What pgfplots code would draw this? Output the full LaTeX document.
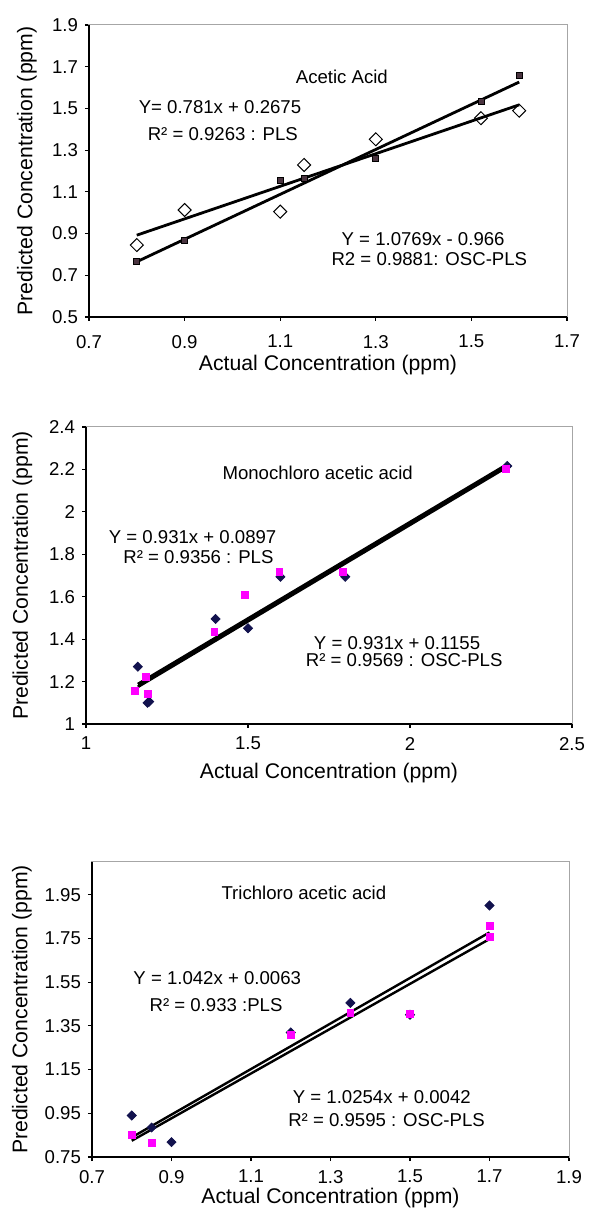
\documentclass[border=0pt]{standalone}
\usepackage{fontspec}
\setmainfont{Liberation Sans}
\usepackage{pgfplots}
\pgfplotsset{compat=1.18}
\definecolor{navy}{HTML}{12124E}
\definecolor{mag}{HTML}{FF00FF}
\definecolor{sqc}{HTML}{4A3440}
\tikzset{
anno/.style={font=\fontsize{9.3}{11}\selectfont, inner sep=0pt},
trend/.style={black, line width=1.4pt},
}
\pgfplotsset{panel/.style={
  scale only axis, anchor=south west,
  axis line style={draw=gray!70, line width=0.5pt},
  tick align=outside, xtick pos=bottom, ytick pos=left,
  major tick length=2pt,
  tick style={black, line width=0.6pt},
  tick label style={font=\fontsize{9.3}{11}\selectfont},
  xticklabel style={yshift=-1pt},
  label style={font=\fontsize{10.6}{12}\selectfont},
  /pgf/number format/assume math mode=true,
  clip=false,
  after end axis/.code={\draw[black,line width=0.7pt] (rel axis cs:0,1) -- (rel axis cs:0,0) -- (rel axis cs:1,0);},
  xlabel={Actual Concentration (ppm)},
  ylabel={Predicted Concentration (ppm)},
}}
\begin{document}
\begin{tikzpicture}
\useasboundingbox (0,0) rectangle (294.5pt,610.5pt);
% ---------------- Panel 1: Acetic acid
\begin{axis}[panel, at={(44.5pt,452pt)}, width=239pt, height=146pt,
  xmin=0.7, xmax=1.7, ymin=0.5, ymax=1.9,
  xtick={0.7,0.9,1.1,1.3,1.5,1.7}, ytick={0.5,0.7,0.9,1.1,1.3,1.5,1.7,1.9},
  xticklabel style={yshift=-2.5pt},
  x label style={at={(axis description cs:0.5,-0.165)},anchor=center},
  y label style={at={(axis description cs:-0.13,0.5)},anchor=center},
]
\addplot[only marks, mark=square*, mark size=1.5pt, draw=black, fill=sqc] coordinates {
 (0.8,0.765) (0.9,0.866) (1.1,1.157) (1.15,1.165) (1.3,1.261) (1.52,1.532) (1.6,1.656)};
\addplot[only marks, mark=square, mark size=2.3pt, draw=black, fill=white, line width=0.5pt,
  every mark/.append style={rotate=45}] coordinates {
 (0.8,0.845) (0.9,1.013) (1.1,1.005) (1.15,1.229) (1.3,1.352) (1.52,1.453) (1.6,1.489)};
\addplot[trend, no marks] coordinates {(0.8,0.8923) (1.6,1.5171)};
\addplot[trend, no marks] coordinates {(0.8,0.7649) (1.6,1.6264)};
\node[anno] at (axis cs:1.229,1.652) {Acetic Acid};
\node[anno] at (axis cs:0.974,1.508) {Y= 0.781x + 0.2675};
\node[anno] at (axis cs:0.980,1.377) {R² = 0.9263 : PLS};
\node[anno] at (axis cs:1.399,0.874) {Y = 1.0769x - 0.966};
\node[anno] at (axis cs:1.412,0.777) {R2 = 0.9881: OSC-PLS};
\end{axis}
% ---------------- Panel 2: Monochloro acetic acid
\begin{axis}[panel, at={(43pt,248.5pt)}, width=243pt, height=148.5pt,
  xmin=1, xmax=2.5, ymin=1, ymax=2.4,
  xtick={1,1.5,2,2.5}, ytick={1,1.2,1.4,1.6,1.8,2,2.2,2.4},
  x label style={at={(axis description cs:0.5,-0.165)},anchor=center},
  y label style={at={(axis description cs:-0.131,0.5)},anchor=center},
]
\addplot[only marks, mark=square*, mark size=1.6pt, draw=navy, fill=navy,
  every mark/.append style={rotate=45}] coordinates {
 (1.16,1.270) (1.195,1.105) (1.19,1.100) (1.4,1.495) (1.5,1.451) (1.6,1.694) (1.8,1.694) (2.3,2.216)};
\addplot[only marks, mark=square*, mark size=1.7pt, draw=mag, fill=mag] coordinates {
 (1.15,1.157) (1.185,1.223) (1.192,1.141) (1.396,1.435) (1.491,1.608) (1.597,1.718) (1.792,1.718) (2.296,2.201)};
\addplot[trend, no marks] coordinates {(1.16,1.175) (2.3,2.212)};
\addplot[trend, no marks] coordinates {(1.16,1.188) (2.3,2.224)};
\node[anno] at (axis cs:1.715,2.182) {Monochloro acetic acid};
\node[anno] at (axis cs:1.329,1.883) {Y = 0.931x + 0.0897};
\node[anno] at (axis cs:1.347,1.789) {R² = 0.9356 : PLS};
\node[anno] at (axis cs:1.960,1.383) {Y = 0.931x + 0.1155};
\node[anno] at (axis cs:1.982,1.302) {R² = 0.9569 : OSC-PLS};
\end{axis}
% ---------------- Panel 3: Trichloro acetic acid
\begin{axis}[panel, at={(46pt,32pt)}, width=238.5pt, height=147.5pt,
  xmin=0.7, xmax=1.9, ymin=0.75, ymax=2.1,
  xtick={0.7,0.9,1.1,1.3,1.5,1.7,1.9}, ytick={0.75,0.95,1.15,1.35,1.55,1.75,1.95},
  x label style={at={(axis description cs:0.5,-0.138)},anchor=center},
  y label style={at={(axis description cs:-0.147,0.5)},anchor=center},
]
\addplot[only marks, mark=square*, mark size=1.6pt, draw=navy, fill=navy,
  every mark/.append style={rotate=45}] coordinates {
 (0.8,0.940) (0.85,0.885) (0.9,0.818) (1.2,1.320) (1.35,1.455) (1.5,1.401) (1.7,1.901)};
\addplot[only marks, mark=square*, mark size=1.7pt, draw=mag, fill=mag] coordinates {
 (0.8,0.851) (0.85,0.813) (1.2,1.309) (1.35,1.410) (1.5,1.404) (1.7,1.807) (1.7,1.758)};
\addplot[trend, line width=1.2pt, no marks] coordinates {(0.8,0.8399) (1.7,1.7777)};
\addplot[trend, line width=1.2pt, no marks] coordinates {(0.8,0.8245) (1.7,1.7474)};
\node[anno] at (axis cs:1.233,1.957) {Trichloro acetic acid};
\node[anno] at (axis cs:1.015,1.569) {Y = 1.042x + 0.0063};
\node[anno] at (axis cs:1.012,1.446) {R² = 0.933 :PLS};
\node[anno] at (axis cs:1.429,1.025) {Y = 1.0254x + 0.0042};
\node[anno] at (axis cs:1.441,0.917) {R² = 0.9595 : OSC-PLS};
\end{axis}
\end{tikzpicture}
\end{document}
